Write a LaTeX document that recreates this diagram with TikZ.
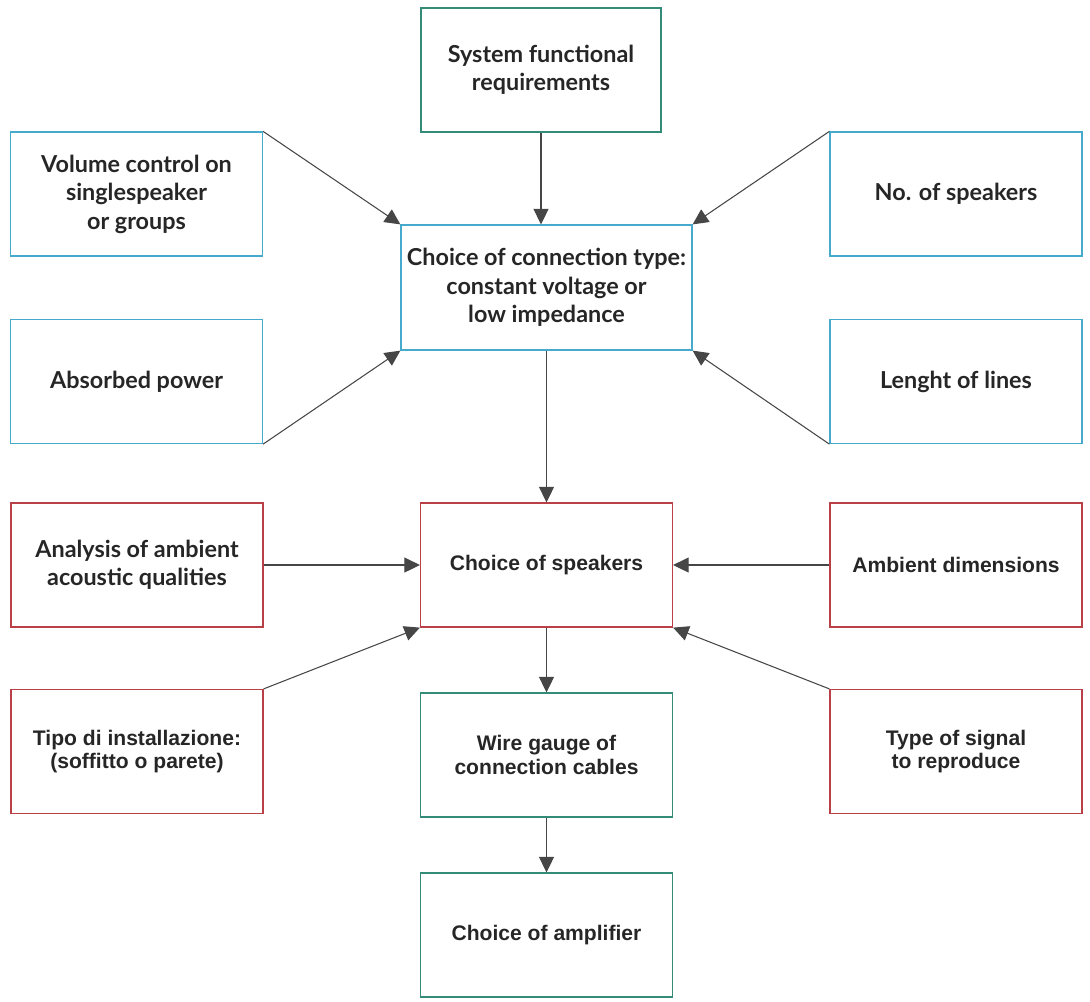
\documentclass[tikz,border=0pt]{standalone}
\usepackage{fontspec}
\usepackage{tikz}
\usetikzlibrary{positioning,arrows.meta,calc}
\newfontfamily\latofont{Lato}
\newfontfamily\arialfont{Liberation Sans}
\definecolor{tealbox}{RGB}{52,140,120}
\definecolor{bluebox}{RGB}{70,170,205}
\definecolor{redbox}{RGB}{186,64,72}
\definecolor{arrowgray}{RGB}{70,70,70}

\begin{document}
\begin{tikzpicture}[
  ô/.style={draw,align=center,inner sep=3pt,minimum width=5.04cm,minimum height=2.48cm,line width=0.7pt,text=black!85},
  lato/.style={font=\latofont\bfseries\fontsize{13.3}{16.2}\selectfont},
  arial/.style={font=\arialfont\bfseries\fontsize{12}{13.6}\selectfont},
  xanh/.style={ô,draw=tealbox},
  lam/.style={ô,draw=bluebox},
  đỏ/.style={ô,draw=redbox},
  mũi/.style={-{Triangle[length=3.1mm,width=3mm]},arrowgray,line width=0.6pt}
]
\useasboundingbox (0,0) rectangle (21.8,-20.02);

% hàng trên
\node[xanh,lato,minimum width=4.8cm] (sfr) at (10.82,-1.40) {System functional\\requirements};
\node[lam,lato,minimum width=5.82cm,minimum height=2.5cm] (cct) at (10.93,-5.75) {Choice of connection type:\\constant voltage or\\low impedance};
\node[lam,lato] (vol) at (2.73,-3.88) {Volume control on\\singlespeaker\\or groups};
\node[lam,lato] (nos) at (19.12,-3.88) {No. of speakers};
\node[lam,lato] (abs) at (2.73,-7.63) {Absorbed power};
\node[lam,lato] (len) at (19.12,-7.63) {Lenght of lines};

% hàng dưới
\node[đỏ,arial] (cos) at (10.93,-11.30) {Choice of speakers};
\node[đỏ,lato] (ana) at (2.74,-11.30) {Analysis of ambient\\acoustic qualities};
\node[đỏ,arial] (amb) at (19.12,-11.30) {Ambient dimensions};
\node[đỏ,arial] (tipo) at (2.74,-15.03) {Tipo di installazione:\\(soffitto o parete)};
\node[đỏ,arial] (tsig) at (19.12,-15.03) {Type of signal\\to reproduce};
\node[xanh,arial] (wire) at (10.93,-15.10) {Wire gauge of\\connection cables};
\node[xanh,arial] (amp) at (10.93,-18.70) {Choice of amplifier};

\draw[mũi] (sfr) -- (sfr|-cct.north);
\draw[mũi] (cct) -- (cct|-cos.north);
\draw[mũi] (cos) -- (wire);
\draw[mũi] (wire) -- (amp);
\foreach \x/\y in {vol.north east/cct.north west,nos.north west/cct.north east,
                   abs.south east/cct.south west,len.south west/cct.south east,
                   ana.east/cos.west,amb.west/cos.east,
                   tipo.north east/cos.south west,tsig.north west/cos.south east}
  \draw[mũi] (\x) -- (\y);
\end{tikzpicture}
\end{document}
